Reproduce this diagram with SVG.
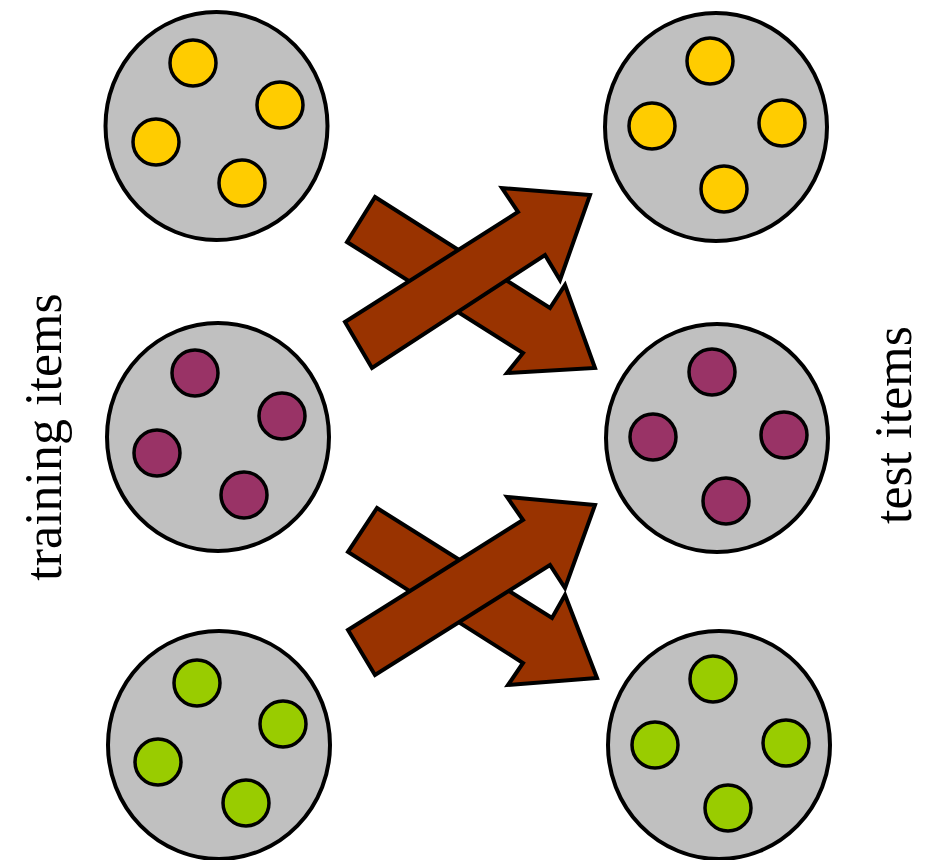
<svg xmlns="http://www.w3.org/2000/svg" width="925" height="860" viewBox="0 0 925 860">
<style>
.big{fill:#C0C0C0;stroke:#000;stroke-width:4}
.dot{stroke:#000;stroke-width:3.5}
.y{fill:#FFCC00}.p{fill:#993366}.g{fill:#99CC00}
.arrow{fill:#993300;stroke:#000;stroke-width:4;stroke-linejoin:miter}
.lbl{font-family:"Liberation Serif","Times New Roman",serif;font-size:52px;fill:#000}
</style>
<rect width="925" height="860" fill="#fff"/>
<g id="train-yellow">
<ellipse class="big" cx="216.5" cy="126" rx="111" ry="114"/>
<circle class="dot y" cx="193" cy="63" r="23"/>
<circle class="dot y" cx="280" cy="105" r="23"/>
<circle class="dot y" cx="156" cy="142" r="23"/>
<circle class="dot y" cx="242" cy="183" r="23"/>
</g>
<g id="train-purple">
<ellipse class="big" cx="218" cy="437" rx="111" ry="114"/>
<circle class="dot p" cx="195" cy="373" r="23"/>
<circle class="dot p" cx="282" cy="416" r="23"/>
<circle class="dot p" cx="157" cy="453" r="23"/>
<circle class="dot p" cx="244" cy="495" r="23"/>
</g>
<g id="train-green">
<ellipse class="big" cx="219" cy="745" rx="111" ry="114"/>
<circle class="dot g" cx="197" cy="683" r="23"/>
<circle class="dot g" cx="283" cy="724" r="23"/>
<circle class="dot g" cx="158" cy="762" r="23"/>
<circle class="dot g" cx="246" cy="803" r="23"/>
</g>
<g id="test-yellow">
<ellipse class="big" cx="716" cy="127" rx="111" ry="114"/>
<circle class="dot y" cx="710" cy="61" r="23"/>
<circle class="dot y" cx="652" cy="126" r="23"/>
<circle class="dot y" cx="782" cy="123" r="23"/>
<circle class="dot y" cx="724" cy="189" r="23"/>
</g>
<g id="test-purple">
<ellipse class="big" cx="717" cy="438" rx="111" ry="114"/>
<circle class="dot p" cx="712" cy="372" r="23"/>
<circle class="dot p" cx="653" cy="437" r="23"/>
<circle class="dot p" cx="784" cy="435" r="23"/>
<circle class="dot p" cx="726" cy="501" r="23"/>
</g>
<g id="test-green">
<ellipse class="big" cx="719" cy="745" rx="111" ry="114"/>
<circle class="dot g" cx="713" cy="679" r="23"/>
<circle class="dot g" cx="655" cy="745" r="23"/>
<circle class="dot g" cx="786" cy="743" r="23"/>
<circle class="dot g" cx="728" cy="808" r="23"/>
</g>
<g id="connectors">
<polygon class="arrow" points="375,197 550,308 565,285 595,368 507,373 523,353 347,242"/>
<polygon class="arrow" points="345,322 518,212 502,188 590,195 560,280 545,255 372,368"/>
<polygon class="arrow" points="377,508 552,618 565,595 597,678 508,685 523,663 348,552"/>
<polygon class="arrow" points="348,630 523,520 507,497 595,505 565,588 550,565 375,675"/>
</g>
<g id="labels">
<text class="lbl" text-anchor="middle" transform="translate(61,437) rotate(-90)">training items</text>
<text class="lbl" text-anchor="middle" transform="translate(911,425) rotate(-90)">test items</text>
</g>
</svg>
